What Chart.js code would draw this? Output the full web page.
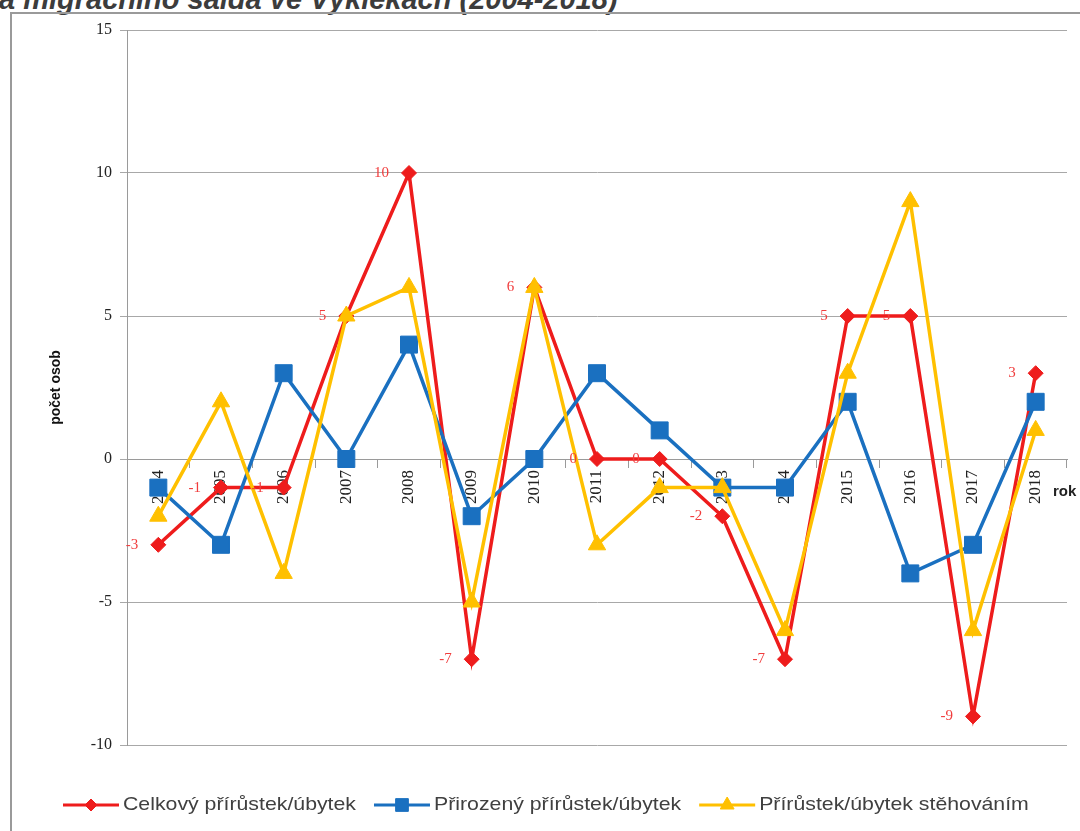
<!DOCTYPE html>
<html>
<head>
<meta charset="utf-8">
<script src="https://cdn.jsdelivr.net/npm/chart.js"></script>
<style>
  body { margin: 0; background: #fff; }
  #wrap { position: relative; width: 1080px; height: 831px; overflow: hidden; }
  #title {
    position: absolute; left: -1px; top: -17px;
    font: italic bold 29px "Liberation Sans", Arial, sans-serif;
    color: #3c3c3c; white-space: nowrap;
  }
  #frame {
    position: absolute; left: 10px; top: 12px; width: 1100px; height: 860px;
    border-left: 2px solid #9a9a9a; border-top: 2px solid #9a9a9a;
  }
  #myChart { position: absolute; left: 0; top: 0; }
</style>
</head>
<body>
<div id="wrap">
  <div id="title">a migračního salda ve Vyklekách (2004-2018)</div>
  <div id="frame"></div>
  <canvas id="myChart" width="1080" height="831"></canvas>
</div>
<script>
// roky
const years = ['2004', '2005', '2006', '2007', '2008', '2009', '2010', '2011',
  '2012', '2013', '2014', '2015', '2016', '2017', '2018'];

// celkovy prirustek/ubytek
const celkovy = [-3, -1, -1, 5, 10, -7, 6, 0, 0, -2, -7, 5, 5, -9, 3];
// prirozeny prirustek/ubytek
const prirozeny = [-1, -3, 3, 0, 4, -2, 0, 3, 1, -1, -1, 2, -4, -3, 2];
// prirustek/ubytek stehovanim
const stehovanim = [-2, 2, -4, 5, 6, -5, 6, -3, -1, -1, -6, 3, 9, -6, 1];

const seriesNames = ['Celkový přírůstek/úbytek', 'Přirozený přírůstek/úbytek', 'Přírůstek/úbytek stěhováním'];
const yTicks = [-10, -5, 0, 5, 10, 15];

const RED = '#ee1c1c';
const BLUE = '#1a70c0';
const YELLOW = '#ffc000';

// popisky hodnot u cervene rady + "rok" + legenda
const extrasPlugin = {
  id: 'extras',
  afterDatasetsDraw(chart) {
    const ctx = chart.ctx;
    ctx.save();
    const meta = chart.getDatasetMeta(0);
    ctx.font = '15px "Liberation Serif", serif';
    ctx.fillStyle = '#f03c3c';
    ctx.textAlign = 'right';
    ctx.textBaseline = 'middle';
    meta.data.forEach((pt, i) => {
      ctx.fillText(String(celkovy[i]), pt.x - 20, pt.y);
    });

    ctx.font = 'bold 15px "Liberation Sans", Arial, sans-serif';
    ctx.fillStyle = '#222';
    ctx.textAlign = 'left';
    ctx.fillText('rok', 1053, 492);
    ctx.restore();
  },
  afterDraw(chart) {
    const ctx = chart.ctx;
    ctx.save();
    const y = 805;
    const sx = 1.12;
    const markers = [
      { style: 'rectRot', r: 6 },
      { style: 'rect', r: 9 },
      { style: 'triangle', r: 8 }
    ];
    ctx.font = '19px "Liberation Sans", sans-serif';
    ctx.textBaseline = 'middle';
    ctx.textAlign = 'left';
    let x = 63;
    chart.data.datasets.forEach((ds, i) => {
      ctx.strokeStyle = ds.borderColor;
      ctx.fillStyle = ds.borderColor;
      ctx.lineWidth = 3;
      ctx.beginPath();
      ctx.moveTo(x, y);
      ctx.lineTo(x + 56, y);
      ctx.stroke();
      ctx.lineWidth = 1;
      Chart.helpers.drawPoint(ctx, { pointStyle: markers[i].style, radius: markers[i].r, borderWidth: 1 }, x + 28, y);
      ctx.fillStyle = '#404040';
      const tx = x + 60;
      ctx.save();
      ctx.translate(tx, y);
      ctx.scale(sx, 1);
      ctx.fillText(ds.label, 0, 0);
      ctx.restore();
      x = tx + ctx.measureText(ds.label).width * sx + 18;
    });
    ctx.restore();
  }
};

const ctx = document.getElementById('myChart').getContext('2d');
const chart = new Chart(ctx, {
  type: 'line',
  data: {
    labels: years,
    datasets: [{
      label: seriesNames[0],
      data: celkovy,
      borderColor: RED,
      backgroundColor: RED,
      borderWidth: 3.5,
      pointStyle: 'rectRot',
      pointRadius: 7.5,
      pointBorderWidth: 1,
      order: 3,
      tension: 0
    }, {
      label: seriesNames[1],
      data: prirozeny,
      borderColor: BLUE,
      backgroundColor: BLUE,
      borderWidth: 3.5,
      pointStyle: 'rect',
      pointRadius: 12,
      pointBorderWidth: 1,
      order: 2,
      tension: 0
    }, {
      label: seriesNames[2],
      data: stehovanim,
      borderColor: YELLOW,
      backgroundColor: YELLOW,
      borderWidth: 3.5,
      pointStyle: 'triangle',
      pointRadius: 10,
      pointBorderWidth: 1,
      order: 1,
      tension: 0
    }]
  },
  options: {
    responsive: false,
    animation: false,
    layout: { padding: { top: 30, bottom: 86, left: 40, right: 12 } },
    plugins: {
      legend: { display: false },
      tooltip: { enabled: false }
    },
    scales: {
      x: {
        position: { y: 0 },
        offset: true,
        grid: {
          drawOnChartArea: false,
          offset: true,
          color: '#9a9a9a',
          tickLength: 8
        },
        border: { display: true, color: '#9a9a9a' },
        ticks: {
          autoSkip: false,
          minRotation: 90,
          maxRotation: 90,
          padding: 3,
          color: '#222',
          font: { family: '"Liberation Serif", serif', size: 17 }
        }
      },
      y: {
        min: -10,
        max: 15,
        afterFit: s => { s.width = 87; },
        afterBuildTicks: s => { s.ticks = yTicks.map(v => ({ value: v })); },
        grid: {
          color: '#a8a8a8',
          tickLength: 7
        },
        border: { display: true, color: '#9a9a9a' },
        ticks: {
          padding: 8,
          color: '#222',
          font: { family: '"Liberation Serif", serif', size: 16 }
        },
        title: {
          display: true,
          text: 'počet osob',
          color: '#111',
          padding: { top: 8, bottom: 0 },
          font: { family: '"Liberation Sans Narrow", "Liberation Sans", sans-serif', size: 14, weight: 'bold' }
        }
      }
    }
  },
  plugins: [extrasPlugin]
});
</script>
</body>
</html>
